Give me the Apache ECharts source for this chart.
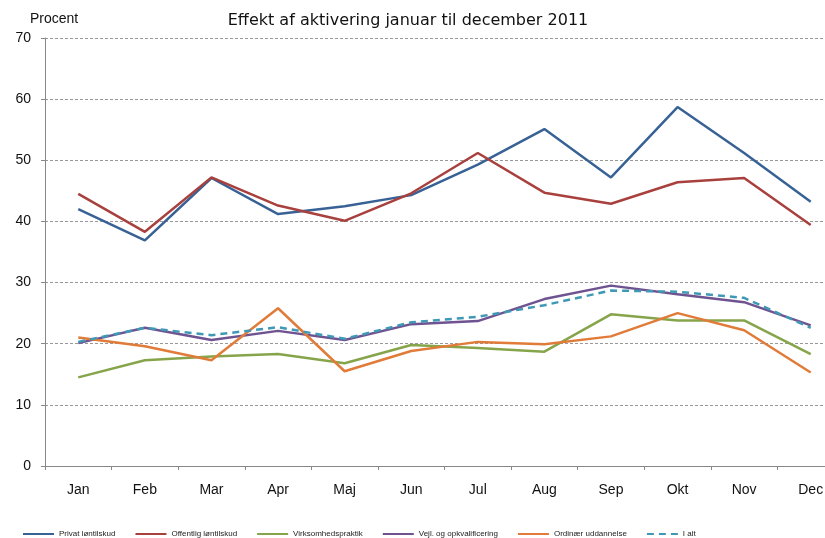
<!DOCTYPE html>
<html>
<head>
<meta charset="utf-8">
<script src="https://cdn.jsdelivr.net/npm/echarts@6/dist/echarts.min.js"></script>
<style>html,body{margin:0;padding:0;background:#fff;overflow:hidden}#c{width:825px;height:538px}</style>
</head>
<body>
<div id="c"></div>
<script>
var months = ['Jan','Feb','Mar','Apr','Maj','Jun','Jul','Aug','Sep','Okt','Nov','Dec'];
var yTicks = [0,10,20,30,40,50,60,70];
var privat =     [42.0,36.9,47.1,41.2,42.5,44.3,49.3,55.1,47.2,58.7,51.2,43.2];
var offentlig =  [44.5,38.3,47.2,42.6,40.1,44.6,51.2,44.7,42.9,46.4,47.1,39.4];
var virksomhed = [14.5,17.3,17.9,18.3,16.8,19.8,19.3,18.7,24.8,23.8,23.8,18.3];
var vejl =       [20.1,22.6,20.6,22.1,20.6,23.2,23.7,27.3,29.5,28.1,26.8,23.0];
var ordinaer =   [21.0,19.6,17.3,25.8,15.5,18.8,20.3,19.9,21.2,25.0,22.2,15.3];
var ialt =       [20.3,22.6,21.4,22.7,20.8,23.5,24.4,26.3,28.7,28.5,27.5,22.6];
var names = ['Privat løntilskud','Offentlig løntilskud','Virksomhedspraktik','Vejl. og opkvalificering','Ordinær uddannelse','I alt'];

function mk(name, data, color, dashed) {
  return {
    name: name, type: 'line', data: data, symbol: 'none', animation: false,
    lineStyle: {color: color, width: 2.5, type: dashed ? [7,5] : 'solid'},
    itemStyle: {color: color}
  };
}
var chart = echarts.init(document.getElementById('c'), null, {renderer:'canvas'});
chart.setOption({
  animation: false,
  textStyle: {fontFamily: 'Liberation Sans, Arial, sans-serif'},
  title: {
    text: 'Effekt af aktivering januar til december 2011',
    left: 403, top: 8, textAlign: 'center',
    textStyle: {fontSize: 16, fontWeight: 'normal', color: '#111', fontFamily: 'DejaVu Sans'}
  },
  grid: {left: 45, width: 799, top: 38, height: 428, containLabel: false, outerBoundsMode: 'none'},
  legend: {
    bottom: 0, left: 22, padding: 0, itemWidth: 31, itemHeight: 8, itemGap: 19,
    itemStyle: {opacity: 0},
    textStyle: {fontSize: 8, color: '#222'},
    data: names
  },
  xAxis: {
    type: 'category', data: months, boundaryGap: true,
    axisLine: {lineStyle: {color: '#888', width: 1}},
    axisTick: {show: true, length: 4, lineStyle: {color: '#888'}},
    axisLabel: {color: '#111', fontSize: 14, margin: 17}
  },
  yAxis: {
    type: 'value', min: yTicks[0], max: yTicks[yTicks.length-1], interval: 10,
    name: 'Procent', nameLocation: 'end', nameGap: 12,
    nameTextStyle: {color: '#111', fontSize: 14, padding: [0,0,0,18]},
    axisLine: {show: true, lineStyle: {color: '#888', width: 1}},
    axisTick: {show: true, length: 4, lineStyle: {color: '#888'}},
    axisLabel: {color: '#111', fontSize: 14, margin: 14},
    splitLine: {show: true, lineStyle: {color: '#999', type: [3,2], width: 1}}
  },
  series: [
    mk(names[0], privat, '#386295'),
    mk(names[1], offentlig, '#A8403D'),
    mk(names[2], virksomhed, '#86A44A'),
    mk(names[3], vejl, '#6F5290'),
    mk(names[4], ordinaer, '#E07B39'),
    mk(names[5], ialt, '#3F98B5', true)
  ]
});
</script>
</body>
</html>
